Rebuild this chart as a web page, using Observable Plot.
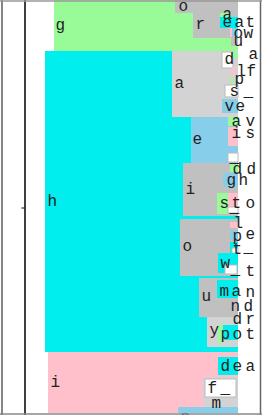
<!DOCTYPE html>
<html><head><meta charset="utf-8">
<script src="https://cdn.jsdelivr.net/npm/d3@7"></script>
<script src="https://cdn.jsdelivr.net/npm/@observablehq/plot@0.6"></script>
<style>html,body{margin:0;padding:0;background:#fff;}</style>
</head><body><div id="chart"></div>
<script>
// Trie nodes of a word list: letter, left edge, right edge, top, bottom, colour group
const nodeLetter = ["g","h","i", "o","r","a","e","o","o","u",
  "a","d","d+","l","p","s","v", "e","a","i","_", "i","d","g","s","t","_", "o","l","p","t","t_","w","w_",
  "u","m","y","p","p2", "d","f","f_","m","n"];
const nodeX0 = [54,45,48, 175,193,220,220,230,232,231,
  172,222,233,231,231,225,222, 191,228,228,228, 183,230,223,217,228,228, 180,230,230,230,232,218,225,
  199,217,207,218,223, 218,203,205,204,178];
const nodeX1 = [238,238,238, 238,238,231,238,233,238,238,
  238,233,238,235,234,238,238, 238,238,238,238, 238,238,238,228,238,238, 238,238,238,238,238,238,237,
  238,238,238,223,238, 238,238,236,238,238];
const nodeY0 = [0,51,352, 0,13,13,17,28,28,37,
  51,52,52,67,78,85,99, 117,117,127,153, 163,164,173,193,193,207, 219,222,230,242,248,253,265,
  278,280,317,325,325, 357,377,379,400,407];
const nodeY1 = [51,352,413, 13,38,18,28,37,37,46,
  117,68,58,75,83,97,113, 163,126,146,162, 216,172,187,214,207,213, 276,228,240,253,253,273,274,
  317,298,347,343,340, 375,400,397,410,413];
const nodeGroup = ["green","cyan","pink", "silver","silver","green","cyan","pink","sky","silver",
  "light","white","green","pink","green","white","sky", "sky","green","pink","white", "silver","green","sky","green","pink","white", "silver","pink","sky","cyan","white","cyan","white",
  "silver","cyan","light","green","cyan", "cyan","light","white","light","sky"];
const groupNames = ["green","cyan","pink","silver","light","sky","white"];
const groupColors = ["#98fb98","#00eeee","#ffc0cb","#c0c0c0","#d3d3d3","#87ceeb","#ffffff"];

// Letters drawn as labels
const labelText = ["g","h","i",
  "o","r","a","e","a","t","o","w","u",
  "a","d","a","l","f","p","s","_","v","e",
  "e","a","v","i","s","_","d","d","g","h",
  "i","s","t","o","_","l",
  "o","p","e","t","_","w","_","t",
  "u","m","a","n","n","d","d","r","y","p","o","t",
  "d","e","a","f","_","m","n"];
const labelX = [55,47,50,
  178,195,222,222,234,245,233,243,233,
  174,224,248,236,246,234,229,243,224,235,
  192,231,245,231,245,229,232,246,226,238,
  185,219,231,245,229,233,
  182,232,245,232,243,220,230,245,
  201,219,231,245,230,243,232,245,209,220,232,245,
  220,232,245,207,220,211,180];
const labelY = [24,200,381,
  5,23,13,21,21,21,32,32,40,
  82,58,53,70,70,78,90,90,105,105,
  138,120,120,132,132,156,168,168,179,179,
  188,202,202,202,206,222,
  245,235,233,248,246,262,268,270,
  295,290,290,291,305,305,318,318,329,333,333,333,
  365,365,365,387,387,402,416];

const nodes = nodeLetter.map((d, i) => ({letter: d, x0: nodeX0[i], x1: nodeX1[i], y0: nodeY0[i], y1: nodeY1[i], group: nodeGroup[i]}));
const labels = labelText.map((t, i) => ({text: t, x: labelX[i], y: labelY[i]}));

const chart = Plot.plot({
  width: 262, height: 415,
  marginTop: 0, marginRight: 0, marginBottom: 0, marginLeft: 0,
  x: {domain: [0, 262], range: [0, 262], axis: null},
  y: {domain: [0, 415], range: [0, 415], axis: null},
  color: {type: "ordinal", domain: groupNames, range: groupColors},
  style: {background: "#fff"},
  marks: [
    Plot.rect(nodes, {x1: "x0", x2: "x1", y1: "y0", y2: "y1", fill: "group",
      stroke: d => d.group === "white" ? "#bbb" : "none", strokeWidth: 1}),
    Plot.text(labels, {x: "x", y: "y", text: "text", textAnchor: "start", lineAnchor: "middle",
      fontSize: 16, fontFamily: "Liberation Mono", fill: "#222"}),
    Plot.ruleX([1.5], {stroke: "#333", strokeWidth: 1.2}),
    Plot.ruleX([24.5], {stroke: "#000", strokeWidth: 1.5}),
    Plot.ruleX([260], {stroke: "#666", strokeWidth: 1.5}),
    Plot.ruleY([0.5], {stroke: "#999", strokeWidth: 1.5}),
    Plot.ruleY([413.5], {stroke: "#888", strokeWidth: 1.5}),
    Plot.ruleY([207.5], {x1: 21.5, x2: 24.5, stroke: "#000"})
  ]
});
document.getElementById("chart").appendChild(chart);
</script>
</body></html>
